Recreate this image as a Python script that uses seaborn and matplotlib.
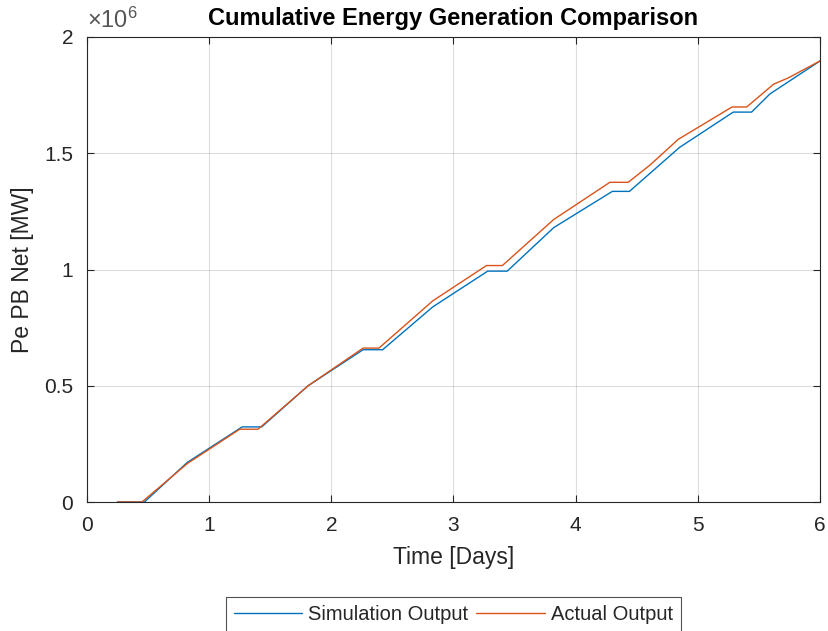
import matplotlib
matplotlib.use("Agg")
import matplotlib.pyplot as plt
import seaborn as sns
import numpy as np
import pandas as pd
from matplotlib.ticker import FuncFormatter, MultipleLocator

# Data (y in units of 1e6)
sim_days = [0.25, 0.47, 0.82, 1.27, 1.43, 1.81, 2.26, 2.42, 2.83, 3.28, 3.44,
            3.82, 4.30, 4.44, 4.85, 5.29, 5.44, 5.59, 6.0]
sim_vals = [0, 0, 0.17, 0.323, 0.323, 0.50, 0.655, 0.655, 0.839, 0.993, 0.993,
            1.18, 1.336, 1.336, 1.525, 1.677, 1.677, 1.755, 1.897]
act_days = [0.25, 0.45, 0.82, 1.25, 1.40, 1.81, 2.26, 2.39, 2.83, 3.27, 3.40,
            3.82, 4.28, 4.43, 4.61, 4.84, 5.28, 5.40, 5.62, 5.74, 6.0]
act_vals = [0, 0, 0.165, 0.313, 0.313, 0.50, 0.662, 0.662, 0.865, 1.017, 1.017,
            1.215, 1.375, 1.375, 1.45, 1.56, 1.699, 1.699, 1.797, 1.824, 1.897]
series_names = ["Simulation Output", "Actual Output"]
x_ticks = [0, 1, 2, 3, 4, 5, 6]

sim_df = pd.DataFrame({"Time": sim_days, "Pe": np.array(sim_vals) * 1e6})
act_df = pd.DataFrame({"Time": act_days, "Pe": np.array(act_vals) * 1e6})

sns.set_style("white")
plt.rcParams["font.family"] = ["Liberation Sans", "DejaVu Sans"]
plt.rcParams["mathtext.fontset"] = "custom"
plt.rcParams["mathtext.rm"] = "Liberation Sans"
plt.rcParams["mathtext.it"] = "Liberation Sans"

axc = "#262626"
fig = plt.figure(figsize=(8.29, 6.31), dpi=100)
ax = fig.add_axes([87 / 829, 129 / 631, (820 - 87) / 829, (502 - 37) / 631])

sns.lineplot(data=sim_df, x="Time", y="Pe", ax=ax, color="#0072BD", lw=1.0,
             sort=False, estimator=None, label=series_names[0])
sns.lineplot(data=act_df, x="Time", y="Pe", ax=ax, color="#D95319", lw=1.0,
             sort=False, estimator=None, label=series_names[1])

ax.set_xlim(0, 6)
ax.set_ylim(0, 2e6)
ax.set_xticks(x_ticks)
ax.yaxis.set_major_locator(MultipleLocator(0.5e6))
ax.yaxis.set_major_formatter(FuncFormatter(lambda v, p: f"{v/1e6:g}"))
ax.grid(True, color="#262626", alpha=0.15, lw=0.8)
for s in ax.spines.values():
    s.set_color(axc)
    s.set_linewidth(0.8)
ax.tick_params(direction="in", length=5, width=0.8, color=axc, labelcolor=axc,
               labelsize=15, top=True, right=True, bottom=True, left=True)
ax.tick_params(axis="x", pad=10)
ax.tick_params(axis="y", pad=10)

ax.set_xlabel("Time [Days]", fontsize=16.5, color=axc, labelpad=8)
ax.set_ylabel("Pe PB Net [MW]", fontsize=16.5, color=axc, labelpad=7)
ax.set_title("Cumulative Energy Generation Comparison", fontsize=17,
             fontweight="bold", color="black", pad=9)
ax.text(0.0, 1.008, r"$\times10^{6}$", transform=ax.transAxes, fontsize=17,
        color="#555555", ha="left", va="bottom")

ax.get_legend().remove()
leg = fig.legend(*ax.get_legend_handles_labels(), loc="upper center",
                 bbox_to_anchor=(0.547, 0.0539), ncol=2, fontsize=14.5,
                 frameon=True, fancybox=False, edgecolor=axc,
                 handlelength=3.4, handletextpad=0.3, columnspacing=0.4,
                 borderpad=0.4, borderaxespad=0.0)
leg.get_frame().set_linewidth(0.8)

fig.savefig("out.png", dpi=100)
